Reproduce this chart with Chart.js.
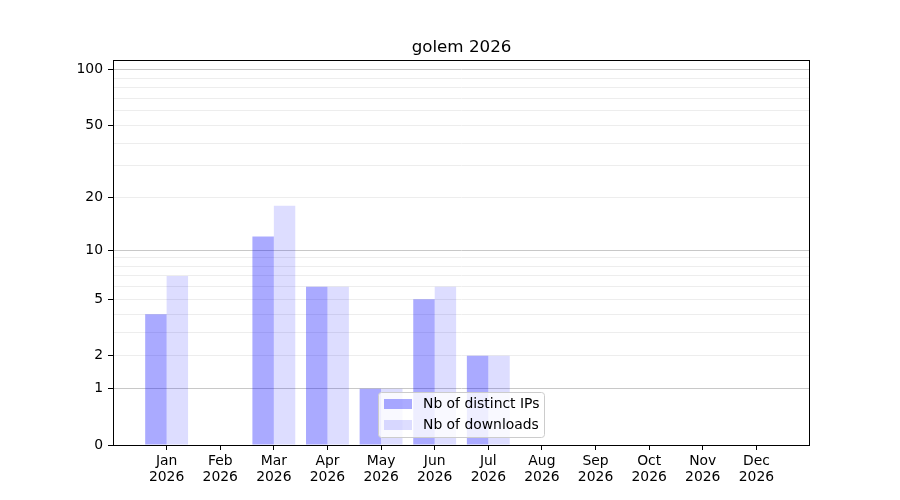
<!DOCTYPE html>
<html>
<head>
<meta charset="utf-8">
<script src="https://cdn.jsdelivr.net/npm/chart.js@4.4.1/dist/chart.umd.min.js"></script>
<style>
  html, body { margin: 0; padding: 0; background: #fff; }
  #wrap { width: 900px; height: 500px; }
</style>
</head>
<body>
<div id="wrap"><canvas id="golemChart"></canvas></div>
<script>
// data
var MONTHS = ['Jan', 'Feb', 'Mar', 'Apr', 'May', 'Jun', 'Jul', 'Aug', 'Sep', 'Oct', 'Nov', 'Dec'];
var YEAR = '2026';
var DISTINCT_IPS = [4, 0, 12, 6, 1, 5, 2, 0, 0, 0, 0, 0];
var DOWNLOADS = [7, 0, 18, 6, 1, 6, 2, 0, 0, 0, 0, 0];

// y axis ticks (log(x+1) scale)
var Y_TICKS = [0, 1, 2, 3, 4, 5, 6, 7, 8, 9, 10, 20, 30, 40, 50, 60, 70, 80, 90, 100];
var Y_LABELED = [0, 1, 2, 5, 10, 20, 50, 100];
var Y_MAJOR = [1, 10, 100];
var Y_MAX = 113;

var FONT = 'DejaVu Sans';
var IP_COLOR = 'rgba(0, 0, 255, 0.333)';
var DL_COLOR = 'rgba(0, 0, 255, 0.133)';

function tf(v) { return v == null ? null : Math.log10(v + 1); }

// one empty slot on each side, like matplotlib's padding
var labels = [''].concat(MONTHS.map(function (m) { return [m, YEAR]; }), ['']);
function pad(arr) { return [null].concat(arr.map(tf), [null]); }

var framePlugin = {
  id: 'frame',
  afterDatasetsDraw: function (chart) {
    var a = chart.chartArea, ctx = chart.ctx;
    ctx.save();
    ctx.strokeStyle = '#000';
    ctx.lineWidth = 1;
    ctx.strokeRect(Math.round(a.left) + 0.5, Math.round(a.top) + 0.5,
                   Math.round(a.right - a.left) - 1, Math.round(a.bottom - a.top));
    // title
    ctx.fillStyle = '#000';
    ctx.font = '16.7px "' + FONT + '"';
    ctx.textAlign = 'center';
    ctx.textBaseline = 'alphabetic';
    ctx.fillText('golem 2026', (a.left + a.right) / 2, a.top - 8);
    ctx.restore();
  }
};

var legendPlugin = {
  id: 'boxLegend',
  afterDraw: function (chart) {
    var ctx = chart.ctx;
    var items = chart.data.datasets;
    var x = 378.5, y = 392.5, w = 166, h = 45;
    ctx.save();
    ctx.beginPath();
    ctx.roundRect(x, y, w, h, 3);
    ctx.fillStyle = 'rgba(255,255,255,0.8)';
    ctx.fill();
    ctx.strokeStyle = '#cccccc';
    ctx.lineWidth = 1;
    ctx.stroke();
    ctx.font = '13.9px "' + FONT + '"';
    ctx.textBaseline = 'middle';
    ctx.textAlign = 'left';
    for (var i = 0; i < items.length; i++) {
      var cy = 404 + i * 21;
      ctx.fillStyle = items[i].backgroundColor;
      ctx.fillRect(384, cy - 5, 28, 10);
      ctx.fillStyle = '#000';
      ctx.fillText(items[i].label, 423, cy);
    }
    ctx.restore();
  }
};

Chart.defaults.font.family = FONT;
Chart.defaults.font.size = 13.9;
Chart.defaults.color = '#000';

new Chart(document.getElementById('golemChart').getContext('2d'), {
  type: 'bar',
  data: {
    labels: labels,
    datasets: [{
      label: 'Nb of distinct IPs',
      data: pad(DISTINCT_IPS),
      backgroundColor: IP_COLOR,
      borderWidth: 0,
      categoryPercentage: 0.8,
      barPercentage: 1.0
    }, {
      label: 'Nb of downloads',
      data: pad(DOWNLOADS),
      backgroundColor: DL_COLOR,
      borderWidth: 0,
      categoryPercentage: 0.8,
      barPercentage: 1.0
    }]
  },
  options: {
    responsive: true,
    maintainAspectRatio: false,
    animation: false,
    layout: { padding: { top: 60, right: 90, bottom: 0, left: 0 } },
    plugins: {
      legend: { display: false },
      title: { display: false },
      tooltip: { enabled: false }
    },
    scales: {
      x: {
        type: 'category',
        offset: false,
        border: { display: false },
        grid: {
          offset: false,
          drawOnChartArea: false,
          drawTicks: true,
          tickLength: 5,
          tickWidth: 1,
          tickColor: function (c) {
            return (c.index === 0 || c.index === labels.length - 1) ? 'rgba(0,0,0,0)' : '#000';
          }
        },
        ticks: { maxRotation: 0, autoSkip: false, padding: 3, font: { lineHeight: 1.15 } },
        afterFit: function (s) { s.height = 55; }
      },
      y: {
        type: 'linear',
        min: 0,
        max: tf(Y_MAX),
        border: { display: false },
        grid: {
          lineWidth: 1,
          color: function (c) {
            var v = Y_TICKS[c.index];
            if (v === 0) return 'rgba(0,0,0,0)';
            return Y_MAJOR.indexOf(v) >= 0 ? '#c8c8c8' : '#ededed';
          },
          tickLength: 5,
          tickWidth: 1,
          tickColor: function (c) {
            return Y_LABELED.indexOf(Y_TICKS[c.index]) >= 0 ? '#000' : 'rgba(0,0,0,0)';
          }
        },
        ticks: {
          autoSkip: false,
          padding: 5,
          callback: function (value, index) {
            var v = Y_TICKS[index];
            return Y_LABELED.indexOf(v) >= 0 ? String(v) : '';
          }
        },
        afterBuildTicks: function (s) {
          s.ticks = Y_TICKS.map(function (v) { return { value: tf(v) }; });
        },
        afterFit: function (s) { s.width = 113; }
      }
    }
  },
  plugins: [framePlugin, legendPlugin]
});
</script>
</body>
</html>
